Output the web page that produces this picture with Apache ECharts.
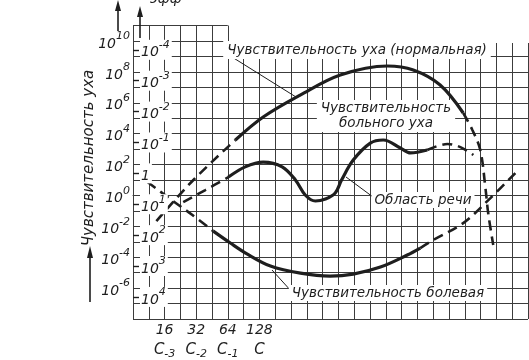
<!DOCTYPE html>
<html><head><meta charset="utf-8">
<script src="https://cdn.jsdelivr.net/npm/echarts@6/dist/echarts.min.js"></script>
<style>html,body{margin:0;padding:0;background:#fff}#c{width:529px;height:360px}</style>
</head><body><div id="c"></div>
<script>
// x = log2(frequency, Hz); y = log10 of the outer sensitivity scale
const xTickValues = [4, 5, 6, 7];
const xTickFreq = ['16', '32', '64', '128'];
const xTickNote = ['-3', '-2', '-1', ''];
const outerTicks = [10, 8, 6, 4, 2, 0, -2, -4, -6];
const innerTicks = [-4, -3, -2, -1, 0, 1, 2, 3, 4];

// Normal ear sensitivity
const normalDashA = [[3.74,-1.66],[4.91,1.0],[6.24,3.59]];
const normalSolid = [[6.24,3.59],[7.12,5.08],[8.29,6.50],[9.56,7.80],[11.05,8.38],[11.87,8.12],[12.72,7.15],[13.45,5.34]];
const normalDashB = [[13.45,5.34],[13.74,4.24],[13.99,2.94],[14.15,0.54],[14.24,-1.14],[14.40,-3.21]];
// Speech area
const speechDashA = [[4.59,-0.43],[5.29,0.35],[6.02,1.19]];
const speechSolid = [[6.02,1.19],[6.55,1.85],[7.12,2.16],[7.72,1.85],[8.14,1.0],[8.45,0.03],[8.77,-0.36],[9.09,-0.23],[9.40,0.16],[9.60,1.0],[9.97,2.29],[10.51,3.39],[10.92,3.59],[11.46,3.07],[11.78,2.75],[12.31,2.94]];
const speechDashB = [[12.31,2.94],[12.95,3.33],[13.36,3.13],[13.77,2.62]];
// Pain sensitivity
const painDashA = [[3.46,0.87],[4.18,-0.23],[4.88,-1.27],[5.54,-2.31]];
const painSolid = [[5.54,-2.31],[6.08,-3.08],[6.62,-3.80],[7.35,-4.57],[8.30,-5.03],[9.24,-5.22],[9.97,-5.09],[10.83,-4.64],[11.68,-3.86],[12.09,-3.41]];
const painDashB = [[12.09,-3.41],[12.50,-2.89],[13.45,-1.79],[14.31,-0.17],[15.10,1.45]];

const INK = '#1e1e1e';
const GRID = '#3c3c3c';
const FONT = '"DejaVu Sans", "Liberation Sans", sans-serif';

function seg(data, dashed) {
  return {
    type: 'line', data: data, smooth: 0.35, symbol: 'none', z: 4,
    xAxisIndex: 0, yAxisIndex: 0,
    lineStyle: { color: INK, width: dashed ? 2.6 : 3.2, type: dashed ? [10, 6] : 'solid' }
  };
}
function pow(exp) { return '{b|10}{s|' + exp + '}'; }

const chart = echarts.init(document.getElementById('c'), null, { renderer: 'canvas' });
const supRich = {
  b: { fontSize: 14, fontStyle: 'italic', fontFamily: FONT, color: INK, lineHeight: 20, verticalAlign: 'bottom' },
  s: { fontSize: 11, fontStyle: 'italic', fontFamily: FONT, color: INK, lineHeight: 20, verticalAlign: 'top' }
};

chart.setOption({
  animation: false,
  backgroundColor: '#fff',
  grid: [
    { left: 133, top: 41, width: 395, height: 278, outerBoundsMode: 'none', containLabel: false },
    { left: 133, top: 25.56, width: 94.8, height: 15.44, outerBoundsMode: 'none', containLabel: false }
  ],
  xAxis: [
    {
      gridIndex: 0, type: 'value', min: 3, max: 15.5, interval: 0.5,
      axisLine: { show: true, lineStyle: { color: GRID, width: 1 } },
      axisTick: { show: false },
      splitLine: { show: true, lineStyle: { color: GRID, width: 1 } },
      axisLabel: {
        margin: 1,
        customValues: xTickValues,
        formatter: function (v) {
          const i = xTickValues.indexOf(v);
          if (i < 0) return '';
          return '{n|' + xTickFreq[i] + '}\n{c|C}' + (xTickNote[i] ? '{u|' + xTickNote[i] + '}' : '');
        },
        rich: {
          n: { fontSize: 14, fontStyle: 'italic', fontFamily: FONT, color: INK, lineHeight: 20 },
          c: { fontSize: 15, fontStyle: 'italic', fontFamily: FONT, color: INK, lineHeight: 20 },
          u: { fontSize: 11, fontStyle: 'italic', fontFamily: FONT, color: INK, lineHeight: 12, verticalAlign: 'bottom' }
        }
      }
    },
    {
      gridIndex: 1, type: 'value', min: 3, max: 6, interval: 0.5,
      axisLine: { show: false }, axisTick: { show: false }, axisLabel: { show: false },
      splitLine: { show: true, lineStyle: { color: GRID, width: 1 } }
    }
  ],
  yAxis: [
    {
      gridIndex: 0, type: 'value', min: -8, max: 10, interval: 1,
      axisLine: { show: true, lineStyle: { color: GRID, width: 1 } },
      axisTick: { show: false },
      splitLine: { show: true, lineStyle: { color: GRID, width: 1 } },
      axisLabel: {
        margin: 3,
        customValues: outerTicks,
        formatter: function (v) { return outerTicks.indexOf(v) >= 0 ? pow(v) : ''; },
        rich: supRich
      }
    },
    {
      gridIndex: 0, type: 'value', inverse: true, min: -4.285, max: 4.715, position: 'left', z: 5,
      axisLine: { show: false },
      splitLine: { show: false },
      axisTick: { show: true, inside: true, length: 6, customValues: innerTicks, lineStyle: { color: INK, width: 1.4 } },
      axisLabel: {
        inside: true, margin: 7,
        customValues: innerTicks,
        backgroundColor: '#fff', padding: [0, 2, 0, 1],
        formatter: function (v) { return v === 0 ? '{b|1}' : pow(v); },
        rich: supRich
      }
    },
    {
      gridIndex: 1, type: 'value', min: 10, max: 11, interval: 1,
      axisLine: { show: true, lineStyle: { color: GRID, width: 1 } },
      axisTick: { show: false }, axisLabel: { show: false },
      splitLine: { show: true, lineStyle: { color: GRID, width: 1 } }
    }
  ],
  series: [
    seg(normalDashA, true), seg(normalSolid, false), seg(normalDashB, true),
    seg(speechDashA, true), seg(speechSolid, false), seg(speechDashB, true),
    seg(painDashA, true), seg(painSolid, false), seg(painDashB, true)
  ],
  graphic: [
    // hide grid top border on the right (scan edge)
    { type: 'rect', z: 3, shape: { x: 229, y: 37, width: 300, height: 6 }, style: { fill: '#fff' } },
    // annotations
    { type: 'line', z: 3, shape: { x1: 232, y1: 57, x2: 296, y2: 97 }, style: { stroke: INK, lineWidth: 1 } },
    { type: 'text', z: 3, x: 357, y: 50, style: { text: 'Чувствительность уха (нормальная)', fill: INK, font: 'italic 13.5px ' + FONT, align: 'center', verticalAlign: 'middle', backgroundColor: '#fff', padding: [2, 4] } },
    { type: 'text', z: 3, x: 386, y: 116, style: { text: 'Чувствительность\nбольного уха', fill: INK, font: 'italic 13.5px ' + FONT, lineHeight: 15, align: 'center', verticalAlign: 'middle', backgroundColor: '#fff', padding: [1, 4] } },
    { type: 'line', z: 3, shape: { x1: 373, y1: 197, x2: 346, y2: 177 }, style: { stroke: INK, lineWidth: 1 } },
    { type: 'text', z: 3, x: 423, y: 200, style: { text: 'Область речи', fill: INK, font: 'italic 13.5px ' + FONT, align: 'center', verticalAlign: 'middle', backgroundColor: '#fff', padding: [1, 3] } },
    { type: 'line', z: 3, shape: { x1: 292, y1: 292, x2: 272, y2: 270 }, style: { stroke: INK, lineWidth: 1 } },
    { type: 'text', z: 3, x: 388, y: 293, style: { text: 'Чувствительность болевая', fill: INK, font: 'italic 13.5px ' + FONT, align: 'center', verticalAlign: 'middle', backgroundColor: '#fff', padding: [1, 3] } },
    // y axis title and arrows
    { type: 'text', x: 89, y: 158, rotation: Math.PI / 2, style: { text: 'Чувствительность уха', fill: INK, font: 'italic 15px ' + FONT, align: 'center', verticalAlign: 'middle' } },
    { type: 'line', shape: { x1: 90, y1: 302, x2: 90, y2: 255 }, style: { stroke: INK, lineWidth: 1.6 } },
    { type: 'polygon', shape: { points: [[90, 246], [87, 258], [93, 258]] }, style: { fill: INK } },
    { type: 'line', shape: { x1: 118, y1: 31, x2: 118, y2: 8 }, style: { stroke: INK, lineWidth: 1.6 } },
    { type: 'polygon', shape: { points: [[118, 0], [115, 11], [121, 11]] }, style: { fill: INK } },
    { type: 'line', z: 5, shape: { x1: 140, y1: 38, x2: 140, y2: 14 }, style: { stroke: INK, lineWidth: 1.6 } },
    { type: 'polygon', z: 5, shape: { points: [[140, 6], [137, 17], [143, 17]] }, style: { fill: INK } },
    { type: 'text', x: 150, y: -1, style: { text: 'эфф', fill: INK, font: 'italic 14px ' + FONT, align: 'left', verticalAlign: 'middle' } }
  ]
});
</script>
</body></html>
